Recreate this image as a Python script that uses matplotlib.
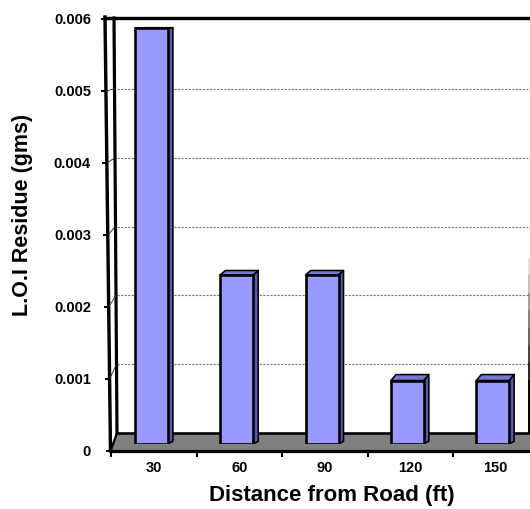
import matplotlib
matplotlib.use("Agg")
import matplotlib.pyplot as plt
from matplotlib.patches import Polygon
from matplotlib.collections import LineCollection
import numpy as np

# ---- data -------------------------------------------------------------
distances = ["30", "60", "90", "120", "150"]
residue = [0.0059, 0.0024, 0.0024, 0.0009, 0.0009]
y_ticks = [0, 0.001, 0.002, 0.003, 0.004, 0.005, 0.006]
y_tick_labels = ["0", "0.001", "0.002", "0.003", "0.004", "0.005", "0.006"]
x_title = "Distance from Road (ft)"
y_title = "L.O.I Residue (gms)"

# ---- figure -----------------------------------------------------------
W, H, DPI = 530, 509, 100
plt.rcParams["font.family"] = ["Liberation Sans", "DejaVu Sans"]
fig = plt.figure(figsize=(W / DPI, H / DPI), dpi=DPI, facecolor="white")

n = len(distances)
YMAX = y_ticks[-1]
PT = 72.0 / DPI  # points per pixel


def px_axes(left, top, right, bottom, z):
    """Axes placed by pixel box (origin top-left)."""
    a = fig.add_axes([left / W, 1 - bottom / H, (right - left) / W, (bottom - top) / H],
                     zorder=z)
    a.set_xlim(0, n)
    a.set_ylim(0, YMAX)
    a.patch.set_alpha(0)
    for s in a.spines.values():
        s.set_visible(False)
    return a


# back wall with its dotted gridlines
back = px_axes(117, 20, 529, 433, 0)
back.set_yticks(y_ticks[1:-1])
back.grid(axis="y", color="#7a7a7a", ls=(0, (2, 1.2)), lw=0.8)
back.tick_params(left=False, bottom=False, labelleft=False, labelbottom=False)

# overlay in pixel coordinates for walls and floor
frame = fig.add_axes([0, 0, 1, 1], zorder=1)
frame.set_xlim(0, W)
frame.set_ylim(H, 0)
frame.axis("off")
frame.patch.set_alpha(0)

# front plane (tick labels)
front = px_axes(111, 19, 538.5, 451, 3)

# left wall edges
outer_top, outer_bot = (105.0, 17.0), (110.5, 451.0)
inner_top, inner_bot = (114.0, 18.0), (117.0, 433.0)


def outer_x(y):
    return outer_top[0] + (y - outer_top[1]) / (outer_bot[1] - outer_top[1]) * (outer_bot[0] - outer_top[0])


def inner_x(y):
    return inner_top[0] + (y - inner_top[1]) / (inner_bot[1] - inner_top[1]) * (inner_bot[0] - inner_top[0])


def to_frame(ax, x, y):
    d = ax.transData.transform((x, y))
    return frame.transData.inverted().transform(d)


# floor
floor = Polygon([outer_bot, inner_bot, (529, 433), (538.5, 451)], closed=True,
                facecolor="#808080", edgecolor="none")
frame.add_patch(floor)
frame.plot([inner_bot[0], 531], [433, 433], color="black", lw=2.6 * PT, solid_capstyle="butt")
frame.plot([outer_bot[0], 531], [451, 451], color="black", lw=3.2 * PT, solid_capstyle="butt")
frame.plot([outer_bot[0], inner_bot[0]], [outer_bot[1], inner_bot[1]], color="black", lw=2.2 * PT)

# left wall
wall = Polygon([outer_top, inner_top, inner_bot, outer_bot], closed=True,
               facecolor="white", edgecolor="none")
frame.add_patch(wall)
frame.plot([outer_top[0], outer_bot[0]], [outer_top[1], outer_bot[1]], color="black", lw=3.4 * PT)
frame.plot([inner_top[0], inner_bot[0]], [inner_top[1], inner_bot[1]], color="black", lw=3.2 * PT)

# connectors on the left wall and tick marks on the outer edge
for v in y_ticks:
    fy = to_frame(front, 0, v)[1]
    by = to_frame(back, 0, v)[1]
    if 0 < v < YMAX:
        frame.plot([outer_x(fy), inner_x(by)], [fy, by], color="#303030", lw=0.9 * PT)
    ox = outer_x(fy)
    frame.plot([ox - 4.5, ox], [fy, fy], color="black", lw=2.0 * PT, solid_capstyle="butt")

# top edge of the walls
frame.plot([103, 531], [17.5, 17.5], color="black", lw=3.4 * PT, solid_capstyle="butt")

# right edge of the back wall, fading towards the top
ys = np.linspace(433, 240, 12)
segs = [[(529, ys[i]), (529, ys[i + 1])] for i in range(len(ys) - 1)]
alphas = np.clip(np.linspace(1.2, 0.0, len(segs)), 0, 1)
cols = [(0, 0, 0, a) for a in alphas]
frame.add_collection(LineCollection(segs, colors=cols, linewidths=2.0 * PT))

# ---- bars -------------------------------------------------------------
bars_ax = px_axes(108.85, 21, 535.35, 444, 2)
bars_ax.set_xticks([])
bars_ax.set_yticks([])
sx = (535.35 - 108.85) / n   # px per category
sy = 423.0 / YMAX            # px per unit value
centers = np.arange(n) + 0.5
bw = 0.385
dw = 5.0 / sx                # depth shift to the right


def rise(v):
    return 7.0 * (1 - v / 0.0062) / sy


for c, v in zip(centers, residue):
    x0, x1 = c - bw / 2, c + bw / 2
    side = Polygon([(x1, 0), (x1 + dw, rise(0) * 0.4), (x1 + dw, v + rise(v)), (x1, v)],
                   closed=True, facecolor="#5a5ab0", edgecolor="black",
                   lw=1.6 * PT, joinstyle="round")
    top = Polygon([(x0, v), (x1, v), (x1 + dw, v + rise(v)), (x0 + dw, v + rise(v))],
                  closed=True, facecolor="#7676d6", edgecolor="black",
                  lw=1.6 * PT, joinstyle="round")
    bars_ax.add_patch(side)
    bars_ax.add_patch(top)

bars_ax.bar(centers, residue, width=bw, color="#9999FF", edgecolor="black",
            linewidth=2.6 * PT, zorder=3)

# ---- front ticks & labels ---------------------------------------------
front.set_yticks(y_ticks)
front.set_yticklabels(y_tick_labels, fontsize=10.5, fontweight="bold")
front.tick_params(axis="y", length=0, pad=(111 - 91) * PT)

front.set_xticks(np.arange(n + 1))
front.set_xticklabels([])
front.tick_params(axis="x", which="major", direction="out", length=5.5 * PT,
                  width=2.0 * PT, color="black")
front.set_xticks(centers, minor=True)
front.set_xticklabels(distances, minor=True, fontsize=10.5, fontweight="bold")
front.tick_params(axis="x", which="minor", length=0, pad=10 * PT)

fig.text(332 / W, 1 - 495 / H, x_title, ha="center", va="center",
         fontsize=16, fontweight="bold")
fig.text(23 / W, 1 - 215 / H, y_title, ha="center", va="center", rotation=90,
         fontsize=15.5, fontweight="bold")

fig.savefig("out.png", dpi=DPI, facecolor="white")
